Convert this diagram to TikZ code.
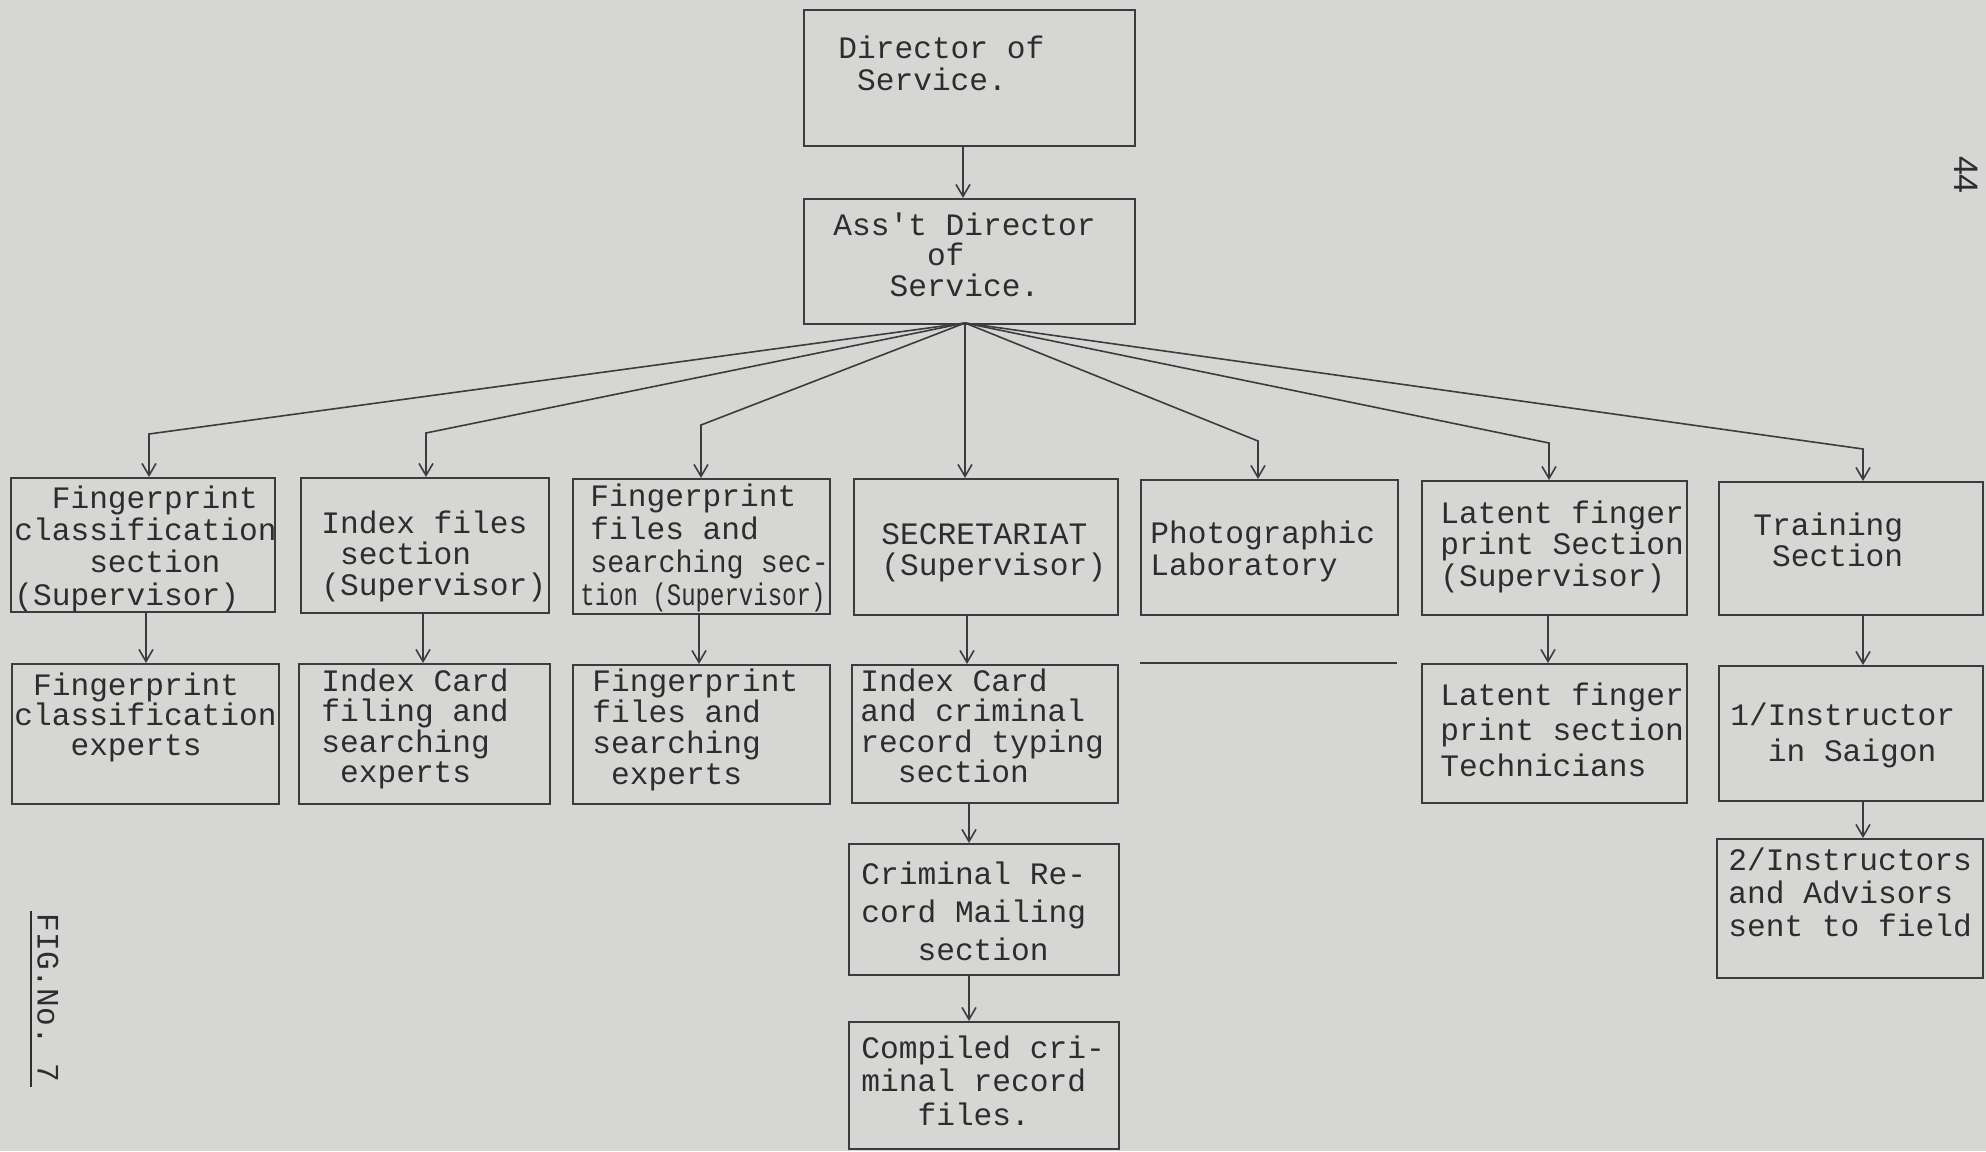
\documentclass[tikz,border=0pt]{standalone}
\usepackage{fontspec}
\usepackage{graphicx}
\setmainfont{Liberation Mono}
\newfontfamily\handfont{Liberation Sans}
\usetikzlibrary{arrows.meta}
\definecolor{paper}{RGB}{214,214,212}
\definecolor{ink}{RGB}{45,45,45}
\definecolor{rulec}{RGB}{60,60,60}
\newcommand\ld[1]{\hspace*{#1\dimexpr0.6em\relax}}
\newcommand\fsz[1]{\fontsize{15.6}{#1}\selectfont}
\newcommand\mkbox[5]{\node[box,minimum width={(#4-#2)*0.5pt},minimum height={(#5-#3)*0.5pt}] (#1) at (#2,#3) {};}
% name, left x, first-line y (px), baselineskip (pt), number of lines, text
\newcommand\mktxt[6]{\node[txt,font=\fsz{#4pt}] (#1) at (#2,{#3+8+(#5-1)*2*#4}) {#6};}
\begin{document}
\begin{tikzpicture}[x=0.5pt,y=-0.5pt,
  box/.style={draw=rulec,line width=0.9pt,inner sep=0pt,anchor=north west},
  txt/.style={anchor=base west,align=left,inner sep=0pt,text=ink},
  arr/.style={draw=rulec,line width=0.8pt,-{Straight Barb[length=6pt,width=7pt]}},
  link/.style={draw=rulec,line width=0.8pt}]
\fill[paper] (0,0) rectangle (1986,1151);
\useasboundingbox (0,0) rectangle (1986,1151);

% boxes
\mkbox{dir}{803}{9}{1134}{145}
\mkbox{asst}{803}{198}{1134}{323}
\mkbox{b1}{10}{477}{274}{611}
\mkbox{b2}{300}{477}{548}{612}
\mkbox{b3}{572}{478}{829}{613}
\mkbox{b4}{853}{478}{1117}{614}
\mkbox{b5}{1140}{479}{1397}{614}
\mkbox{b6}{1421}{480}{1686}{614}
\mkbox{b7}{1718}{481}{1982}{614}
\mkbox{c1}{11}{663}{278}{803}
\mkbox{c2}{298}{663}{549}{803}
\mkbox{c3}{572}{664}{829}{803}
\mkbox{c4}{851}{664}{1117}{802}
\mkbox{c6}{1421}{663}{1686}{802}
\mkbox{c7}{1718}{665}{1982}{800}
\mkbox{d4}{848}{843}{1118}{974}
\mkbox{e4}{848}{1021}{1118}{1148}
\mkbox{d7}{1716}{838}{1982}{977}
\draw[link] (1140,663) -- (1397,663);

% texts
\mktxt{tdir}{838}{50}{16}{2}{Director of\\\ld1Service.}
\mktxt{tasst}{833}{227}{15.3}{3}{Ass\textquotesingle t Director\\\ld5of\\\ld3Service.}
\mktxt{tb1}{14}{500}{16.2}{4}{\ld2Fingerprint\\classification\\\ld4section\\(Supervisor)}
\mktxt{tb2}{321}{525}{15.5}{3}{Index files\\\ld1section\\(Supervisor)}
\mktxt{tb3}{590}{498}{16.5}{4}{Fingerprint\\files and\\\scalebox{0.91}[1]{searching sec-}\\\hspace*{-5pt}\scalebox{0.77}[1]{tion (Supervisor)}}
\mktxt{tb4}{881}{536}{15.5}{2}{SECRETARIAT\\(Supervisor)}
\mktxt{tb5}{1150}{535}{16}{2}{Photographic\\Laboratory}
\mktxt{tb6}{1440}{515}{15.8}{3}{Latent finger\\print Section\\(Supervisor)}
\mktxt{tb7}{1753}{527}{15.5}{2}{Training\\\ld1Section}
\mktxt{tc1}{14}{687}{15}{3}{\ld1Fingerprint\\classification\\\ld3experts}
\mktxt{tc2}{321}{683}{15.3}{4}{Index Card\\filing and\\searching\\\ld1experts}
\mktxt{tc3}{592}{683}{15.6}{4}{Fingerprint\\files and\\searching\\\ld1experts}
\mktxt{tc4}{860}{683}{15.3}{4}{Index Card\\and criminal\\record typing\\\ld2section}
\mktxt{tc6}{1440}{697}{17.8}{3}{Latent finger\\print section\\Technicians}
\mktxt{tc7}{1730}{717}{18}{2}{1/Instructor\\\ld2in Saigon}
\mktxt{td4}{861}{876}{19}{3}{Criminal Re-\\cord Mailing\\\ld3section}
\mktxt{te4}{861}{1050}{16.8}{3}{Compiled cri-\\minal record\\\ld3files.}
\mktxt{td7}{1728}{862}{16.5}{3}{2/Instructors\\and Advisors\\sent to field}

% connectors
\coordinate (xa) at (963,0);
\draw[arr] (dir.south -| xa) -- (asst.north -| xa);
\coordinate (apex) at (965,323);
\coordinate (k1) at (149,434);
\coordinate (k2) at (426,433);
\coordinate (k3) at (701,425);
\coordinate (k5) at (1258,441);
\coordinate (k6) at (1549,443);
\coordinate (k7) at (1863,449);
\draw[arr] (apex) -- (k1) -- (k1 |- b1.north);
\draw[arr] (apex) -- (k2) -- (k2 |- b2.north);
\draw[arr] (apex) -- (k3) -- (k3 |- b3.north);
\draw[arr] (apex) -- (apex |- b4.north);
\draw[arr] (apex) -- (k5) -- (k5 |- b5.north);
\draw[arr] (apex) -- (k6) -- (k6 |- b6.north);
\draw[arr] (apex) -- (k7) -- (k7 |- b7.north);
\coordinate (v1) at (146,0);
\coordinate (v2) at (423,0);
\coordinate (v3) at (699,0);
\coordinate (v4) at (967,0);
\coordinate (v6) at (1548,0);
\coordinate (v7) at (1863,0);
\coordinate (v8) at (969,0);
\draw[arr] (b1.south -| v1) -- (c1.north -| v1);
\draw[arr] (b2.south -| v2) -- (c2.north -| v2);
\draw[arr] (b3.south -| v3) -- (c3.north -| v3);
\draw[arr] (b4.south -| v4) -- (c4.north -| v4);
\draw[arr] (b6.south -| v6) -- (c6.north -| v6);
\draw[arr] (b7.south -| v7) -- (c7.north -| v7);
\draw[arr] (c4.south -| v8) -- (d4.north -| v8);
\draw[arr] (d4.south -| v8) -- (e4.north -| v8);
\draw[arr] (c7.south -| v7) -- (d7.north -| v7);

% side labels
\node[rotate=-90,inner sep=0pt,text=ink,font=\fsz{16pt}] (fig) at (48,998) {FIG.No.~7};
\draw[draw=ink,line width=1.4pt] ([xshift=-3pt,yshift=1pt]fig.south west) -- ([xshift=-3pt,yshift=-2pt]fig.south east);
\node[rotate=-90,inner sep=0pt,text=ink,font=\handfont\fontsize{17}{17}\selectfont] (pnum) at (1966,175) {44};
\end{tikzpicture}
\end{document}
